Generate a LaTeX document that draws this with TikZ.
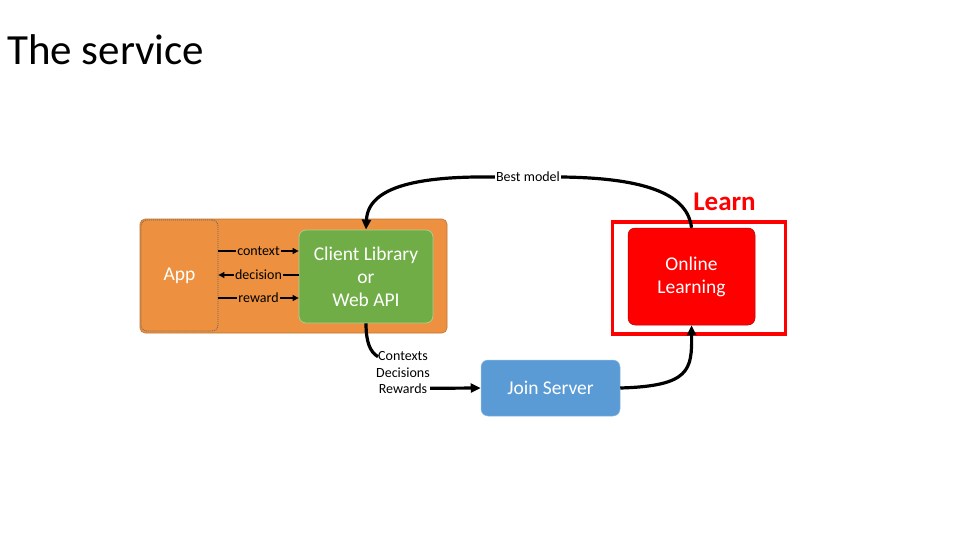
\documentclass[tikz,border=0pt]{standalone}
\usepackage{fontspec}
\setmainfont{Carlito}
\usetikzlibrary{arrows.meta}
\definecolor{orng}{RGB}{237,145,64}
\definecolor{grn}{RGB}{112,173,71}
\definecolor{blu}{RGB}{91,155,213}
\definecolor{rd}{RGB}{255,0,0}
\tikzset{
  box/.style={rounded corners=7pt, text=white, align=center, inner sep=0pt, font=\fontsize{19.5}{24}\selectfont},
  lbl/.style={font=\fontsize{14}{16.5}\selectfont, inner sep=1pt},
  big/.style={line width=3.2pt, -{Triangle[length=10pt,width=9pt]}},
  bigplain/.style={line width=3.2pt},
  small/.style={line width=1.1pt, -{Triangle[length=6pt,width=6pt]}},
}
\begin{document}
\begin{tikzpicture}[x=1pt,y=-1pt]
\useasboundingbox (0,0) rectangle (960,540);
\node[anchor=base west, inner sep=0pt, font=\fontsize{43}{50}\selectfont] (title) at (7,65) {The service};
% orange container
\node[draw=orng!80!black, line width=0.6pt, fill=orng, rounded corners=5pt, minimum width=307pt, minimum height=114pt, inner sep=0pt] (cont) at (293.5,276) {};
\node[box, draw=black!60, dash pattern=on 1pt off 1pt, line width=0.8pt, fill=orng, rounded corners=6pt, minimum width=77pt, minimum height=111pt] (app) at (179.5,275.5) {App};
\node[box, draw=grn!60!white, line width=0.8pt, fill=grn, minimum width=134pt, minimum height=93pt] (cl) at (366,276.5) {Client Library\\[-1pt]or\\[-1pt]Web API};
% small arrows
\draw[small] (app.east |- 0,251) -- (cl.west |- 0,251) node[lbl, midway, fill=orng] (ctx) {context};
\draw[small] (cl.west |- 0,275) -- (app.east |- 0,275) node[lbl, midway, fill=orng] (dec) {decision};
\draw[small] (app.east |- 0,298) -- (cl.west |- 0,298) node[lbl, midway, fill=orng] (rew) {reward};
% learn
\node[draw=rd, line width=3.5pt, minimum width=173pt, minimum height=112pt, inner sep=0pt] (frame) at (699,278) {};
\node[box, fill=rd, draw=rd!70!black, line width=0.5pt, minimum width=127pt, minimum height=97pt] (ol) at (691.5,276.5) {Online\\[-1pt]Learning};
\node[anchor=base, text=rd, font=\bfseries\fontsize{27}{30}\selectfont, inner sep=0pt] (learn) at (724.5,210) {Learn};
% join server
\node[box, fill=blu, draw=blu!70!white, line width=0.5pt, minimum width=139pt, minimum height=56pt] (join) at (550.5,388) {Join Server};
% best model
\node[lbl, fill=white] (bm) at (528,177) {Best model};
\draw[bigplain] (ol.north) .. controls (688,196) and (650,178) .. (bm.east);
\draw[big] (bm.west) .. controls (420,176) and (368,186) .. (cl.north);
% contexts label
\node[lbl, align=center, font=\fontsize{14}{16.5}\selectfont] (cdr) at (403,373) {Contexts\\Decisions\\Rewards};
\draw[bigplain] (cl.south) .. controls (366,342) and (370,352) .. ([xshift=3pt,yshift=-6pt]cdr.north west);
\draw[big] ([xshift=-1pt,yshift=7pt]cdr.south east) -- (join.west);
\draw[big] (join.east) .. controls (690,386) and (692,370) .. (ol.south);
\end{tikzpicture}
\end{document}
